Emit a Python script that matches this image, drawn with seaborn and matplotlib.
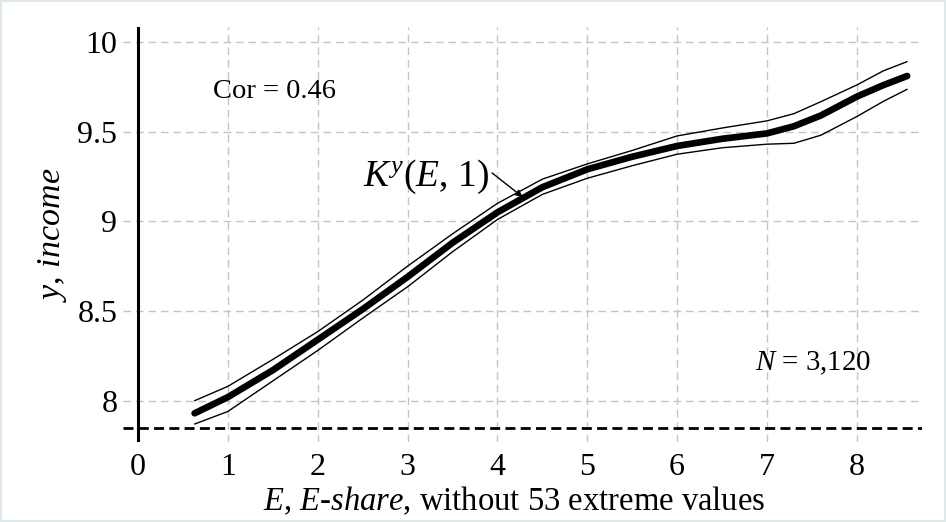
import matplotlib
matplotlib.use("Agg")
import matplotlib.pyplot as plt
import seaborn as sns

# ---- data ----
e_share = [0.63, 1.0, 1.5, 2.0, 2.5, 3.0, 3.5, 4.0, 4.5, 5.0, 5.5, 6.0, 6.5, 7.0, 7.3, 7.6, 8.0, 8.3, 8.56]
k_center = [7.93, 8.02, 8.17, 8.34, 8.51, 8.69, 8.88, 9.05, 9.19, 9.29, 9.36, 9.42, 9.46, 9.49, 9.53, 9.59, 9.695, 9.76, 9.81]
k_upper = [8.00, 8.08, 8.23, 8.385, 8.56, 8.75, 8.93, 9.10, 9.235, 9.32, 9.395, 9.476, 9.52, 9.56, 9.60, 9.667, 9.76, 9.84, 9.89]
k_lower = [7.87, 7.94, 8.11, 8.28, 8.46, 8.635, 8.83, 9.01, 9.15, 9.24, 9.31, 9.374, 9.41, 9.43, 9.435, 9.48, 9.584, 9.67, 9.736]

x_ticks = [0, 1, 2, 3, 4, 5, 6, 7, 8]
y_ticks = [8, 8.5, 9, 9.5, 10]
y_tick_labels = ["8", "8.5", "9", "9.5", "10"]
baseline_y = 7.85

sns.set_theme(style="white")
plt.rcParams["font.family"] = ["Liberation Serif", "DejaVu Serif"]
plt.rcParams["mathtext.fontset"] = "custom"
plt.rcParams["mathtext.rm"] = "Liberation Serif"
plt.rcParams["mathtext.it"] = "Liberation Serif:italic"

fig = plt.figure(figsize=(9.46, 5.22), dpi=100)
fig.patch.set_facecolor("white")
fig.patch.set_edgecolor("#dde9e9")
fig.patch.set_linewidth(1.5)

ax = fig.add_axes([0.130, 0.1533, 0.8446, 0.7956])
ax.set_xlim(-0.167, 8.725)
ax.set_ylim(7.77, 10.085)

# grid
grid_style = dict(color="#c4c4c4", lw=1.0, ls=(0, (5.5, 3.5)), zorder=0)
for xv in x_ticks[1:]:
    ax.axvline(xv, **grid_style)
for yv in y_ticks:
    ax.axhline(yv, **grid_style)

# y axis line at x = 0 and dashed baseline
ax.axvline(0, color="black", lw=2.2, zorder=2)
ax.axhline(baseline_y, color="black", lw=2.0, ls=(0, (3.6, 1.9)), zorder=2)

# curves
sns.lineplot(x=e_share, y=k_upper, ax=ax, color="black", lw=1.0, estimator=None, sort=False, zorder=3)
sns.lineplot(x=e_share, y=k_lower, ax=ax, color="black", lw=1.0, estimator=None, sort=False, zorder=3)
sns.lineplot(x=e_share, y=k_center, ax=ax, color="black", lw=4.8, estimator=None, sort=False, zorder=4)

for s in ax.spines.values():
    s.set_visible(False)

ax.set_xticks(x_ticks)
ax.set_xticklabels([str(v) for v in x_ticks])
ax.set_yticks(y_ticks)
ax.set_yticklabels(y_tick_labels)
ax.tick_params(axis="both", length=0, labelsize=23, colors="black")
ax.tick_params(axis="y", pad=4)
ax.tick_params(axis="x", pad=8)

ax.set_ylabel(r"$y$, $income$", fontsize=24.5, color="black")
ax.yaxis.set_label_coords(-0.067, 0.5)
ax.set_xlabel(r"$E$, $E$-$share$, without 53 extreme values", fontsize=23.5, color="black")
ax.xaxis.set_label_coords(0.489, -0.103)

ax.text(0.835, 9.686, "Cor = 0.46", fontsize=20.5, color="black", ha="left", va="baseline")
ax.text(6.87, 8.171, r"$N$ = 3,120", fontsize=20.8, color="black", ha="left", va="baseline")
ax.text(2.50, 9.20, r"$K^{y}$($E$, 1)", fontsize=27, color="black", ha="left", va="baseline")
ax.annotate("", xy=(4.28, 9.136), xytext=(3.94, 9.27),
            arrowprops=dict(arrowstyle="-|>", color="black", lw=1.0,
                            mutation_scale=10, shrinkA=0, shrinkB=0))

fig.savefig("out.png", dpi=100)
